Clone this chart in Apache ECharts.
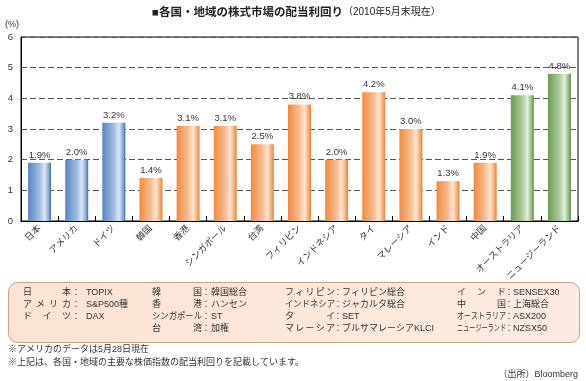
<!DOCTYPE html>
<html><head><meta charset="utf-8">
<script src="https://cdn.jsdelivr.net/npm/echarts@6/dist/echarts.min.js"></script>
<style>html,body{margin:0;padding:0;background:#fff}#c{width:586px;height:381px}</style>
</head><body><div id="c"></div>
<script>
const categories = ['日本','アメリカ','ドイツ','韓国','香港','シンガポール','台湾','フィリピン','インドネシア','タイ','マレーシア','インド','中国','オーストラリア','ニュージーランド'];
const yields = [1.9,2.0,3.2,1.4,3.1,3.1,2.5,3.8,2.0,4.2,3.0,1.3,1.9,4.1,4.8];
const regions = ['major','major','major','asia','asia','asia','asia','asia','asia','asia','asia','asia','asia','oceania','oceania'];
const yTicks = [0,1,2,3,4,5,6];
const titleMain = '■各国・地域の株式市場の配当利回り';
const titleSub = '（2010年5月末現在）';
const unitLabel = '(%)';
const indexCol1 = [['日本','TOPIX'],['アメリカ','S&P500種'],['ドイツ','DAX']];
const indexCol2 = [['韓国','韓国総合'],['香港','ハンセン'],['シンガポール','ST'],['台湾','加権']];
const indexCol3 = [['フィリピン','フィリピン総合'],['インドネシア','ジャカルタ総合'],['タイ','SET'],['マレーシア','ブルサマレーシアKLCI']];
const indexCol4 = [['インド','SENSEX30'],['中国','上海総合'],['オーストラリア','ASX200'],['ニュージーランド','NZSX50']];
const notes = ['※アメリカのデータは5月28日現在','※上記は、各国・地域の主要な株価指数の配当利回りを記載しています。'];
const sourceText = '（出所）Bloomberg';

const FONT = '"Liberation Sans", "Noto Sans CJK JP", sans-serif';
function grad(c0, c1, c2, c3, c4) {
  return new echarts.graphic.LinearGradient(0,0,1,0,[
    {offset:0,color:c0},{offset:0.5,color:c1},{offset:0.72,color:c2},{offset:0.9,color:c3},{offset:1,color:c4}]);
}
const palette = {
  major: grad('#5a84bf','#9fbce2','#dbe6f4','#85a8d6','#3f69a8'),
  asia: grad('#f08a3e','#f7bd92','#fde5d2','#f5a870','#ea8236'),
  oceania: grad('#6b9b56','#aecb9e','#e1eeda','#92ba80','#5c8d48')
};

const chart = echarts.init(document.getElementById('c'));
const graphics = [];
// title
graphics.push({type:'text', left:152, top:7, style:{
  text:'{a|'+titleMain+'}{b|'+titleSub+'}',
  rich:{a:{fontSize:11.5,fontWeight:'bold',fontFamily:FONT,fill:'#222'},b:{fontSize:10,fontFamily:FONT,fill:'#222'}}
}});
graphics.push({type:'text', left:5, top:20, style:{text:unitLabel, fontSize:9, fontFamily:FONT, fill:'#333'}});
// legend box
graphics.push({type:'rect', shape:{x:8.5,y:282.5,width:571,height:60,r:9},
  style:{fill:new echarts.graphic.LinearGradient(0,0,1,0,[{offset:0,color:'#fbe3d4'},{offset:1,color:'#fdece2'}]), stroke:'#c9a186', lineWidth:1}});
const cols = [
  {data:indexCol1, s:23, e:71, colon:76, v:86},
  {data:indexCol2, s:152, e:202, colon:206, v:211},
  {data:indexCol3, s:285, e:335, colon:338, v:342},
  {data:indexCol4, s:457, e:506, colon:509, v:513}
];
const rowY = [293, 305, 317, 329];
const FS = 9;
cols.forEach(col => {
  col.data.forEach((row, ri) => {
    const label = row[0], val = row[1];
    const n = label.length;
    const span = col.e - col.s;
    const y = rowY[ri];
    if (n * FS >= span) {
      graphics.push({type:'text', x:col.s, y:y, scaleX: span/(n*FS), originX:0,
        style:{text:label, fontSize:FS, fontFamily:FONT, fill:'#333', textAlign:'left', textVerticalAlign:'middle'}});
    } else {
      for (let i = 0; i < n; i++) {
        const cx = col.s + FS/2 + i * (span - FS) / (n - 1);
        graphics.push({type:'text', x:cx, y:y, style:{text:label[i], fontSize:FS, fontFamily:FONT, fill:'#333', textAlign:'center', textVerticalAlign:'middle'}});
      }
    }
    graphics.push({type:'text', x:col.colon, y:y, style:{text:'：', fontSize:9, fontFamily:FONT, fill:'#333', textAlign:'center', textVerticalAlign:'middle'}});
    graphics.push({type:'text', x:col.v, y:y, style:{text:val, fontSize:9, fontFamily:FONT, fill:'#333', textAlign:'left', textVerticalAlign:'middle'}});
  });
});
notes.forEach((t,i) => graphics.push({type:'text', x:8, y:350+i*13, style:{text:t, fontSize:9, fontFamily:FONT, fill:'#333', textVerticalAlign:'middle'}}));
graphics.push({type:'text', x:578, y:375, style:{text:sourceText, fontSize:9, fontFamily:FONT, fill:'#333', textAlign:'right', textVerticalAlign:'middle'}});

chart.setOption({
  animation:false,
  backgroundColor:'#fff',
  grid:{left:21, right:8, top:37, bottom:160, show:true, borderColor:'#000', borderWidth:1},
  xAxis:{type:'category', data:categories, boundaryGap:true,
    axisLine:{lineStyle:{color:'#000',width:1}},
    axisTick:{show:true, inside:true, length:5, lineStyle:{color:'#000'}},
    axisLabel:{rotate:45, fontSize:9, fontFamily:FONT, color:'#333', margin:6, interval:0}},
  yAxis:{type:'value', min:yTicks[0], max:yTicks[yTicks.length-1], interval:1,
    axisLine:{show:true, lineStyle:{color:'#000'}},
    axisTick:{show:false},
    axisLabel:{fontSize:9.5, fontFamily:FONT, color:'#333', margin:8},
    splitLine:{show:true, lineStyle:{color:'#555', type:[6,3], width:1}}},
  series:[{type:'bar', barWidth:23,
    data: yields.map((v,i)=>({value:v, itemStyle:{color:palette[regions[i]]}})),
    label:{show:true, position:'top', distance:3, fontSize:9.5, fontFamily:FONT, color:'#333',
      formatter:p=>p.value.toFixed(1)+'%'}}],
  graphic: graphics
});
</script></body></html>
